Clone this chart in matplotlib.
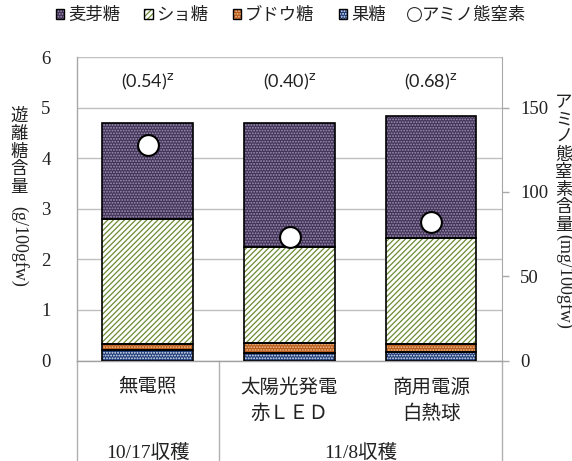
import matplotlib
matplotlib.use('Agg')
import matplotlib.pyplot as plt
from matplotlib.patches import Patch
from matplotlib.lines import Line2D
import matplotlib.transforms as mtransforms

# ---------------- data ----------------
categories = ['無電照', '太陽光発電\n赤ＬＥＤ', '商用電源\n白熱球']
groups = ['10/17収穫', '11/8収穫']
group_spans = [(0, 0), (1, 2)]
fructose = [0.20, 0.15, 0.17]
glucose = [0.13, 0.19, 0.16]
sucrose = [2.47, 1.91, 2.09]
maltose = [1.89, 2.44, 2.41]
amino_n = [128, 73, 82]
ratios = ['(0.54)', '(0.40)', '(0.68)']
series_names = ['麦芽糖', 'ショ糖', 'ブドウ糖', '果糖', 'アミノ態窒素']
left_ticks = [0, 1, 2, 3, 4, 5, 6]
right_ticks = [0, 50, 100, 150]
left_label_cjk = '遊離糖含量'
left_label_unit = '(g/100gfw)'
right_label_cjk = 'アミノ態窒素含量'
right_label_unit = '(mg/100gfw)'

# ---------------- style ----------------
plt.rcParams['hatch.linewidth'] = 0.9
SERIF = ['Liberation Serif', 'Noto Sans CJK JP']
CJK = ['Noto Sans CJK JP', 'DejaVu Sans']
plt.rcParams['font.family'] = SERIF

W, H = 572, 461
fig = plt.figure(figsize=(W / 100, H / 100), dpi=100)
x0, x1, y0, y1 = 77, 502, 360.5, 57
ax = fig.add_axes([x0 / W, 1 - y0 / H, (x1 - x0) / W, (y0 - y1) / H])

styles = {
    '果糖': dict(face='#1c3a78', hatch='......', hc='#e8eef8'),
    'ブドウ糖': dict(face='#b85a1a', hatch='......', hc='#f0c090'),
    'ショ糖': dict(face='#ffffff', hatch='//////', hc='#6b8c34'),
    '麦芽糖': dict(face='#413257', hatch='......', hc='#a093b4'),
}

xs = list(range(len(categories)))
bw = 0.64
stack = [('果糖', fructose), ('ブドウ糖', glucose), ('ショ糖', sucrose), ('麦芽糖', maltose)]
bottom = [0.0] * len(xs)
for name, vals in stack:
    st = styles[name]
    ax.bar(xs, vals, bw, bottom=bottom, color=st['face'], hatch=st['hatch'],
           edgecolor=st['hc'], linewidth=0, zorder=2)
    ax.bar(xs, vals, bw, bottom=bottom, fill=False, edgecolor='black',
           linewidth=1.2, zorder=3)
    bottom = [b + v for b, v in zip(bottom, vals)]

ax.set_xlim(-0.5, len(xs) - 0.5)
ax.set_ylim(0, 6)
ax.set_yticks(left_ticks)
ax.set_yticklabels([str(t) for t in left_ticks], fontsize=13.5, color='#222222',
                   family=SERIF)
ax.tick_params(axis='y', length=0, pad=19)
ax.set_xticks([])
ax.grid(axis='y', color='#c0c0c0', linewidth=1.0, zorder=0)
ax.set_axisbelow(True)
for s in ['top', 'right']:
    ax.spines[s].set_visible(False)
ax.spines['left'].set_color('#a8a8a8')
ax.spines['bottom'].set_color('#a0a0a0')
ax.spines['left'].set_linewidth(1.0)
ax.spines['bottom'].set_linewidth(1.0)

# ratio annotations
for i, r in enumerate(ratios):
    ax.text(xs[i], 5.5, r + r'$^{\mathsf{z}}$', ha='center', va='center',
            fontsize=13, family=['Lato', 'DejaVu Sans'], color='#222222', zorder=5)

# right axis
ax2 = ax.twinx()
ax2.set_ylim(0, 180)
ax2.plot(xs, amino_n, ls='none', marker='o', ms=15, mfc='white', mec='black',
         mew=1.5, zorder=6)
ax2.set_yticks(right_ticks)
ax2.set_yticklabels([str(t) for t in right_ticks], fontsize=13.5, color='#222222',
                    family=SERIF)
ax2.tick_params(axis='y', length=5, width=1, color='#a8a8a8', pad=8)
for s in ['top', 'left', 'bottom']:
    ax2.spines[s].set_visible(False)
ax2.spines['right'].set_color('#a8a8a8')

# bottom category labels (two level)
trans = mtransforms.blended_transform_factory(ax.transData, ax.transAxes)
ph = y0 - y1
for i, c in enumerate(categories):
    for j, line in enumerate(c.split('\n')):
        ax.text(xs[i], -(27 + 26 * j) / ph, line, transform=trans, ha='center',
                va='center', fontsize=14, family=SERIF, color='#222222')
for g, (a, b) in zip(groups, group_spans):
    ax.text((a + b) / 2, -92 / ph, g, transform=trans, ha='center', va='center',
            fontsize=14, family=SERIF, color='#222222')
seps = [-0.5] + [b + 0.5 for (a, b) in group_spans]
for sx in seps:
    ax.add_line(Line2D([sx, sx], [0, -0.34], transform=trans, color='#b0b0b0',
                       lw=1.0, clip_on=False))

# vertical axis titles
for i, ch in enumerate(left_label_cjk):
    fig.text(19 / W, 1 - (116 + 17.8 * i) / H, ch, ha='center', va='center',
             fontsize=12.5, family=CJK, color='#222222')
fig.text(19 / W, 1 - 206 / H, left_label_unit, rotation=270, ha='center', va='top',
         fontsize=13, family=SERIF, color='#222222')
for i, ch in enumerate(right_label_cjk):
    fig.text(564 / W, 1 - (102 + 17.5 * i) / H, ch, ha='center', va='center',
             fontsize=12.5, family=CJK, color='#222222')
fig.text(564 / W, 1 - 234 / H, right_label_unit, rotation=270, ha='center', va='top',
         fontsize=13, family=SERIF, color='#222222')

# legend
handles = []
for name in series_names[:4]:
    st = styles[name]
    handles.append((Patch(facecolor=st['face'], hatch=st['hatch'], edgecolor=st['hc'], lw=0),
                    Patch(fill=False, edgecolor='black', lw=1.0)))
handles.append(Line2D([], [], ls='none', marker='o', ms=10, mfc='white', mec='#333333', mew=0.8))
leg = fig.legend(handles, series_names, loc='center', bbox_to_anchor=(291 / W, 1 - 15 / H),
                 ncol=5, frameon=False, handlelength=0.5, handleheight=0.5,
                 handletextpad=0.2, columnspacing=1.4, borderpad=0,
                 prop={'family': CJK, 'size': 12.5})
for t in leg.get_texts():
    t.set_color('#222222')

fig.savefig('out.png', dpi=100)
